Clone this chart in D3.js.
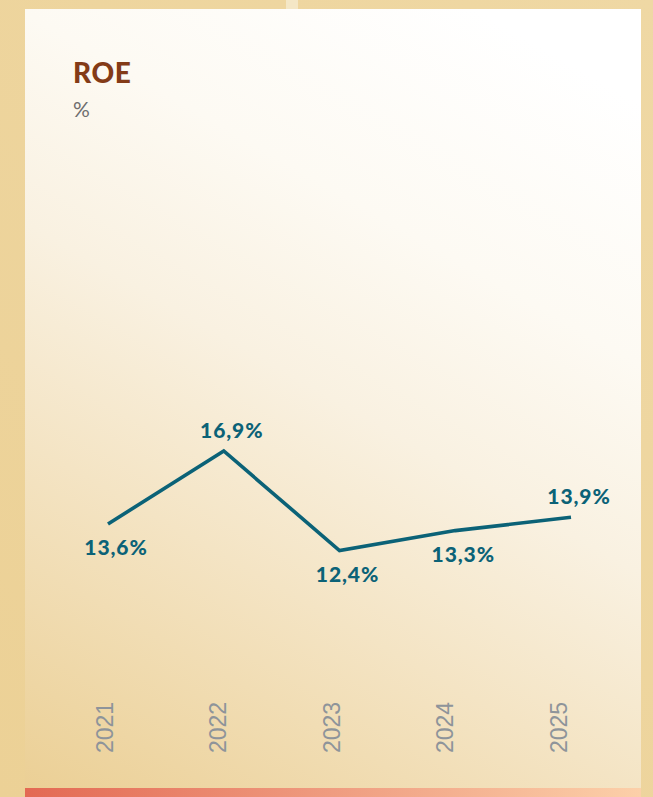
<!DOCTYPE html>
<html>
<head>
<meta charset="utf-8">
<script src="https://cdn.jsdelivr.net/npm/d3@7"></script>
<style>
  html, body { margin: 0; padding: 0; background: #EDD59F; }
  svg { display: block; }
</style>
</head>
<body>
<svg id="chart" width="653" height="797"></svg>
<script>
const years = ["2021", "2022", "2023", "2024", "2025"];
const roe = [13.6, 16.9, 12.4, 13.3, 13.9];
const labelPlacement = ["below", "above", "below", "below", "above"];
const title = "ROE";
const unit = "%";

const W = 653, H = 797;
const svg = d3.select("#chart");
const defs = svg.append("defs");

const bg = defs.append("linearGradient").attr("id", "bgGrad")
  .attr("x1", "0%").attr("y1", "100%").attr("x2", "100%").attr("y2", "0%");
bg.append("stop").attr("offset", "0%").attr("stop-color", "#ECD196");
bg.append("stop").attr("offset", "100%").attr("stop-color", "#EFD8A4");

const card = defs.append("linearGradient").attr("id", "cardGrad")
  .attr("gradientUnits", "userSpaceOnUse")
  .attr("x1", 25).attr("y1", 797).attr("x2", 475).attr("y2", 9);
card.append("stop").attr("offset", "0").attr("stop-color", "#EBCF94");
card.append("stop").attr("offset", "0.34").attr("stop-color", "#F4E4C4");
card.append("stop").attr("offset", "0.55").attr("stop-color", "#F9F1E1");
card.append("stop").attr("offset", "0.75").attr("stop-color", "#FDFAF3");
card.append("stop").attr("offset", "1").attr("stop-color", "#FFFFFF");

const bar = defs.append("linearGradient").attr("id", "barGrad")
  .attr("x1", "0%").attr("y1", "0%").attr("x2", "100%").attr("y2", "0%");
bar.append("stop").attr("offset", "0%").attr("stop-color", "#E36953");
bar.append("stop").attr("offset", "50%").attr("stop-color", "#EF9C80");
bar.append("stop").attr("offset", "100%").attr("stop-color", "#FCD0A9");

// outer background
svg.append("rect").attr("x", 0).attr("y", 0).attr("width", W).attr("height", H).attr("fill", "url(#bgGrad)");
svg.append("rect").attr("x", 286).attr("y", 0).attr("width", 12).attr("height", 9).attr("fill", "#F4E7C6");

// card
const cardX = 25, cardY = 9, cardW = 616, cardH = 788;
svg.append("rect").attr("x", cardX).attr("y", cardY).attr("width", cardW).attr("height", cardH)
  .attr("fill", "url(#cardGrad)");
svg.append("rect").attr("x", cardX).attr("y", 788).attr("width", cardW).attr("height", 9)
  .attr("fill", "url(#barGrad)");

// title
svg.append("text").attr("x", 73).attr("y", 83)
  .attr("font-family", "Lato, 'Open Sans', sans-serif").attr("font-weight", 900)
  .attr("font-size", 28).attr("letter-spacing", 0.6).attr("fill", "#843B17").text(title);
svg.append("text").attr("x", 73).attr("y", 117)
  .attr("font-family", "Lato, 'Open Sans', sans-serif").attr("font-weight", 400)
  .attr("font-size", 21).attr("fill", "#6E6E6E").text(unit);

// scales
const x = d3.scalePoint().domain(years).range([108, 571]);
const xAxisScale = d3.scalePoint().domain(years).range([104, 558]);
const y = d3.scaleLinear().domain([12.4, 16.9]).range([550.5, 451]);

const data = years.map((yr, i) => ({ year: yr, value: roe[i], place: labelPlacement[i] }));

const line = d3.line().x(d => x(d.year)).y(d => y(d.value));
svg.append("path").datum(data).attr("d", line)
  .attr("fill", "none").attr("stroke", "#0B6277").attr("stroke-width", 3.6)
  .attr("stroke-linejoin", "miter").attr("stroke-linecap", "butt");

const fmt = v => d3.format(".1f")(v).replace(".", ",") + "%";
svg.append("g").selectAll("text").data(data).join("text")
  .attr("x", d => x(d.year) + 8)
  .attr("y", d => y(d.value) + (d.place === "below" ? 31 : -13))
  .attr("text-anchor", "middle")
  .attr("font-family", "Lato, 'Open Sans', sans-serif").attr("font-weight", 900)
  .attr("font-size", 21).attr("letter-spacing", 0.9)
  .attr("fill", "#0B6277").text(d => fmt(d.value));

// x axis (rotated year labels)
const axis = d3.axisBottom(xAxisScale).tickSize(0).tickPadding(0);
const gAxis = svg.append("g").attr("transform", "translate(0,753)").call(axis);
gAxis.select(".domain").remove();
gAxis.selectAll("text")
  .attr("transform", "rotate(-90)")
  .attr("x", 0).attr("y", 0).attr("dy", "0.36em")
  .attr("text-anchor", "start")
  .attr("font-family", "'Liberation Sans', Arial, sans-serif")
  .attr("font-size", 23).attr("fill", "#8E949A");
</script>
</body>
</html>
